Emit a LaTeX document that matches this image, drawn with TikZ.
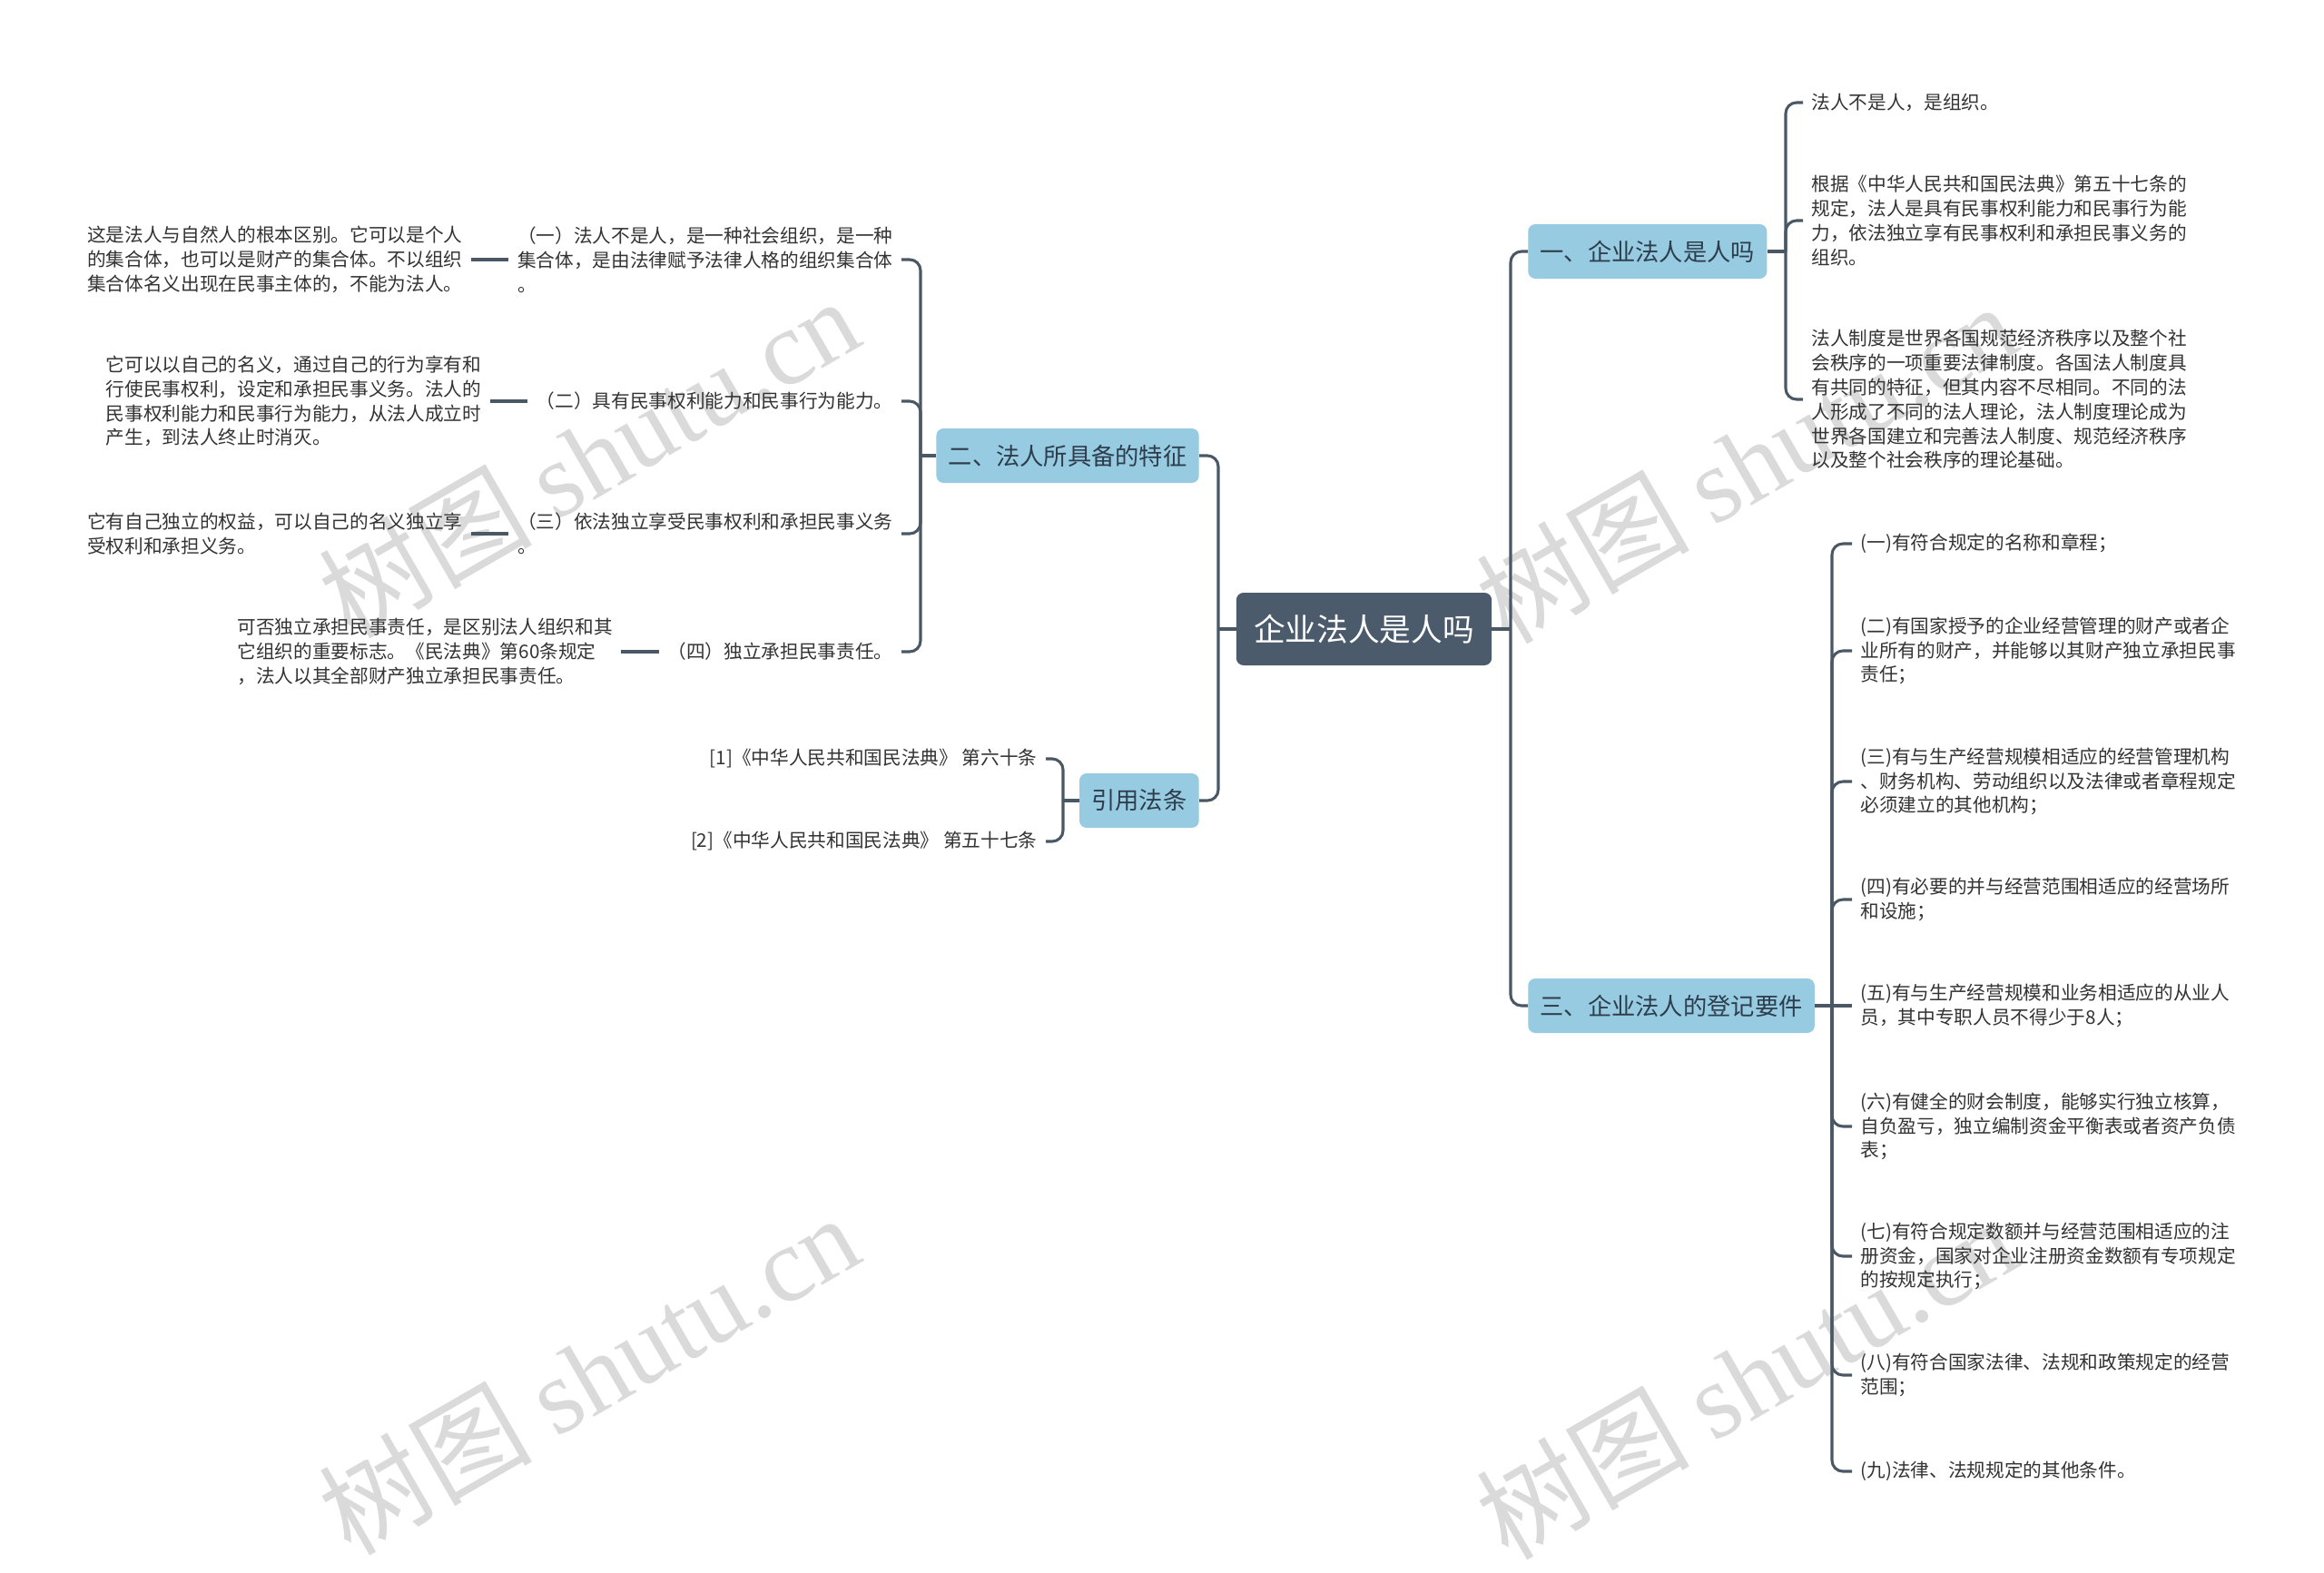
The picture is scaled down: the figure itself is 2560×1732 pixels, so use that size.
\documentclass[tikz,border=0pt]{standalone}
\usepackage{fontspec}
\setmainfont{Noto Sans CJK SC}
\newfontfamily\wmlatin{Liberation Serif}
\usetikzlibrary{positioning}
\definecolor{linec}{HTML}{4A5866}
\definecolor{rootc}{HTML}{4B5B6B}
\definecolor{branchc}{HTML}{96CBE1}
\definecolor{txt}{HTML}{333333}
\definecolor{btxt}{HTML}{2E3D4C}
\definecolor{wmc}{HTML}{DADADA}
\tikzset{
  conn/.style={draw=linec, line width=2.3pt, rounded corners=9pt},
  rootnode/.style={fill=rootc, text=white, rounded corners=6pt, minimum width=211pt, minimum height=60pt, inner sep=0pt, font=\fontsize{26}{30}\selectfont},
  branch/.style={fill=branchc, text=btxt, rounded corners=6pt, minimum height=45pt, inner xsep=10pt, inner ysep=0pt, font=\fontsize{19.7}{24}\selectfont},
  leaf/.style={text=txt, align=left, inner xsep=7pt, inner ysep=2pt, font=\fontsize{15.5}{20.1}\selectfont},
  wmark/.style={text=wmc, rotate=30, font=\fontsize{88}{90}\selectfont}
}
\begin{document}
\begin{tikzpicture}[x=0.75pt,y=-0.75pt]
\useasboundingbox (0,0) rectangle (2560,1732);
\fill[white] (0,0) rectangle (2560,1732);
% watermarks
\node[wmark] (w1) at (648,503) {树图 {\wmlatin shutu.cn}};
\node[wmark] (w2) at (1923,509) {树图 {\wmlatin shutu.cn}};
\node[wmark] (w3) at (648,1513) {树图 {\wmlatin shutu.cn}};
\node[wmark] (w4) at (1923,1518) {树图 {\wmlatin shutu.cn}};

% root
\node[rootnode] (root) at (1502.5,693) {企业法人是人吗};

% branches
\node[branch, anchor=west] (b1) at (1683,277) {一、企业法人是人吗};
\node[branch, anchor=west] (b3) at (1683,1108) {三、企业法人的登记要件};
\node[branch, anchor=east] (b2) at (1321,502) {二、法人所具备的特征};
\node[branch, anchor=east] (b4) at (1321,882) {引用法条};

\coordinate (jR) at (1664,693);
\coordinate (jL) at (1342,693);
\draw[conn] (root.east) -- (jR);
\draw[conn] (jR) |- (b1.west);
\draw[conn] (jR) |- (b3.west);
\draw[conn] (root.west) -- (jL);
\draw[conn] (jL) |- (b2.east);
\draw[conn] (jL) |- (b4.east);

% branch 1 children
\node[leaf, anchor=west] (c11) at (1986,113) {法人不是人，是组织。};
\node[leaf, anchor=west] (c12) at (1986,243) {根据《中华人民共和国民法典》第五十七条的\\规定，法人是具有民事权利能力和民事行为能\\力，依法独立享有民事权利和承担民事义务的\\组织。};
\node[leaf, anchor=west] (c13) at (1986,440) {法人制度是世界各国规范经济秩序以及整个社\\会秩序的一项重要法律制度。各国法人制度具\\有共同的特征，但其内容不尽相同。不同的法\\人形成了不同的法人理论，法人制度理论成为\\世界各国建立和完善法人制度、规范经济秩序\\以及整个社会秩序的理论基础。};
\coordinate (j1) at (1967,277);
\draw[conn] (b1.east) -- (j1);
\draw[conn] (j1) |- (c11.west);
\draw[conn] (j1) |- (c12.west);
\draw[conn] (j1) |- (c13.west);

% branch 3 children
\node[leaf, anchor=west] (d1) at (2040,599) {(一)有符合规定的名称和章程；};
\node[leaf, anchor=west] (d2) at (2040,717) {(二)有国家授予的企业经营管理的财产或者企\\业所有的财产，并能够以其财产独立承担民事\\责任；};
\node[leaf, anchor=west] (d3) at (2040,861) {(三)有与生产经营规模相适应的经营管理机构\\、财务机构、劳动组织以及法律或者章程规定\\必须建立的其他机构；};
\node[leaf, anchor=west] (d4) at (2040,991) {(四)有必要的并与经营范围相适应的经营场所\\和设施；};
\node[leaf, anchor=west] (d5) at (2040,1108) {(五)有与生产经营规模和业务相适应的从业人\\员，其中专职人员不得少于8人；};
\node[leaf, anchor=west] (d6) at (2040,1241) {(六)有健全的财会制度，能够实行独立核算，\\自负盈亏，独立编制资金平衡表或者资产负债\\表；};
\node[leaf, anchor=west] (d7) at (2040,1384) {(七)有符合规定数额并与经营范围相适应的注\\册资金，国家对企业注册资金数额有专项规定\\的按规定执行；};
\node[leaf, anchor=west] (d8) at (2040,1515) {(八)有符合国家法律、法规和政策规定的经营\\范围；};
\node[leaf, anchor=west] (d9) at (2040,1621) {(九)法律、法规规定的其他条件。};
\coordinate (j3) at (2018,1108);
\draw[conn] (b3.east) -- (d5.west);
\foreach \n in {d1,d2,d3,d4,d6,d7,d8,d9} {\draw[conn] (j3) |- (\n.west);}

% branch 2 children
\node[leaf, anchor=east] (e1) at (993,286) {（一）法人不是人，是一种社会组织，是一种\\集合体，是由法律赋予法律人格的组织集合体\\。};
\node[leaf, anchor=east] (e2) at (993,442) {（二）具有民事权利能力和民事行为能力。};
\node[leaf, anchor=east] (e3) at (993,588) {（三）依法独立享受民事权利和承担民事义务\\。};
\node[leaf, anchor=east] (e4) at (993,718) {（四）独立承担民事责任。};
\node[leaf, anchor=east] (e1l) at ([xshift=-31pt]e1.west) {这是法人与自然人的根本区别。它可以是个人\\的集合体，也可以是财产的集合体。不以组织\\集合体名义出现在民事主体的，不能为法人。};
\node[leaf, anchor=east] (e2l) at ([xshift=-31pt]e2.west) {它可以以自己的名义，通过自己的行为享有和\\行使民事权利，设定和承担民事义务。法人的\\民事权利能力和民事行为能力，从法人成立时\\产生，到法人终止时消灭。};
\node[leaf, anchor=east] (e3l) at ([xshift=-31pt]e3.west) {它有自己独立的权益，可以自己的名义独立享\\受权利和承担义务。};
\node[leaf, anchor=east] (e4l) at ([xshift=-31pt]e4.west) {可否独立承担民事责任，是区别法人组织和其\\它组织的重要标志。《民法典》第60条规定\\，法人以其全部财产独立承担民事责任。};
\coordinate (j2) at (1014,502);
\draw[conn] (b2.west) -- (j2);
\foreach \n in {e1,e2,e3,e4} {\draw[conn] (j2) |- (\n.east);}
\draw[conn] (e1l.east) -- (e1.west);
\draw[conn] (e2l.east) -- (e2.west);
\draw[conn] (e3l.east) -- (e3.west);
\draw[conn] (e4l.east) -- (e4.west);

% branch 4 children
\node[leaf, anchor=east] (f1) at (1152,836) {[1]《中华人民共和国民法典》 第六十条};
\node[leaf, anchor=east] (f2) at (1152,927) {[2]《中华人民共和国民法典》 第五十七条};
\coordinate (j4) at (1171,882);
\draw[conn] (b4.west) -- (j4);
\draw[conn] (j4) |- (f1.east);
\draw[conn] (j4) |- (f2.east);
\end{tikzpicture}
\end{document}
